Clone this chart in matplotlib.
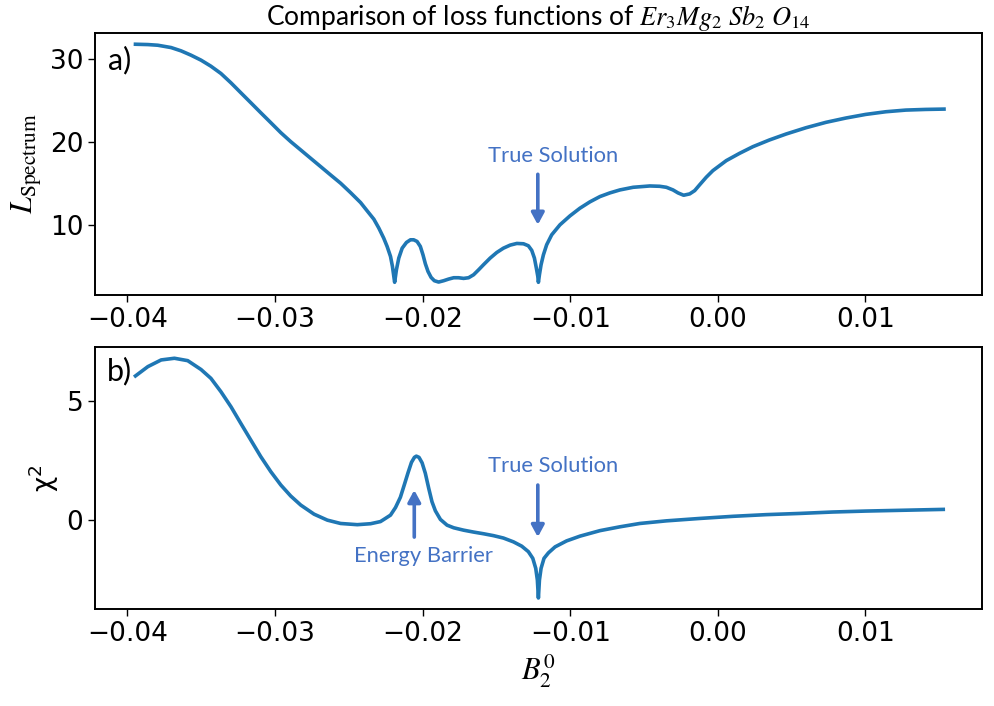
import numpy as np
import matplotlib
matplotlib.use("Agg")
import matplotlib.pyplot as plt

plt.rcParams['mathtext.fontset'] = 'stix'

# B_2^0 values and spectrum loss
b20_spec = [-0.03946, -0.03862, -0.03795, -0.03705, -0.03637, -0.03570, -0.03502,
            -0.03435, -0.03367, -0.03299, -0.03232, -0.03164, -0.03097, -0.03029,
            -0.02961, -0.02894, -0.02826, -0.02759, -0.02691, -0.02624, -0.02556,
            -0.02489, -0.02421, -0.02376, -0.02331, -0.02297, -0.02264, -0.02241,
            -0.02218, -0.02205, -0.02190,
            -0.02178, -0.02162, -0.02139, -0.02110, -0.02083, -0.02061, -0.02038,
            -0.02016, -0.01998, -0.01982, -0.01964, -0.01943, -0.01921, -0.01892,
            -0.01858, -0.01824, -0.01790, -0.01757, -0.01723, -0.01689, -0.01655,
            -0.01621, -0.01588, -0.01543, -0.01498, -0.01453, -0.01407, -0.01362,
            -0.01317, -0.01284, -0.01261, -0.01243, -0.01230, -0.01220, -0.01216,
            -0.01209, -0.01198, -0.01182, -0.01160, -0.01126,
            -0.01070, -0.01002, -0.00935, -0.00867, -0.00799, -0.00732, -0.00664,
            -0.00574, -0.00461, -0.00394, -0.00349, -0.00304, -0.00270, -0.00232,
            -0.00191, -0.00157, -0.00124, -0.00079, -0.00034, 0.00057, 0.00147,
            0.00237, 0.00349, 0.00462, 0.00597, 0.00732, 0.00867, 0.01002,
            0.01138, 0.01273, 0.01408, 0.01532]
loss_spec = [31.84, 31.80, 31.72, 31.44, 31.04, 30.52, 29.92,
             29.19, 28.31, 27.18, 25.98, 24.77, 23.57, 22.37,
             21.16, 20.08, 19.07, 18.07, 17.06, 16.06, 15.06,
             13.93, 12.73, 11.72, 10.72, 9.64, 8.43, 7.43,
             6.22, 5.02, 3.10,
             4.61, 6.02, 7.22, 7.91, 8.23, 8.23, 8.03,
             7.43, 6.42, 5.34, 4.41, 3.69, 3.29, 3.13,
             3.29, 3.49, 3.65, 3.65, 3.57, 3.65, 4.01,
             4.61, 5.22, 6.02, 6.70, 7.22, 7.59, 7.79,
             7.75, 7.51, 6.95, 6.02, 4.82, 3.81, 3.10,
             4.01, 5.22, 6.42, 7.63, 8.83,
             10.04, 11.12, 12.04, 12.81, 13.45, 13.89, 14.25,
             14.57, 14.73, 14.69, 14.57, 14.25, 13.89, 13.61,
             13.77, 14.17, 14.86, 15.78, 16.58, 17.79, 18.67,
             19.47, 20.28, 21.00, 21.76, 22.41, 22.93, 23.37,
             23.69, 23.89, 23.97, 24.01]

# B_2^0 values and chi^2
b20_chi = [-0.03946, -0.03862, -0.03772, -0.03682, -0.03592, -0.03502, -0.03435,
           -0.03367, -0.03299, -0.03232, -0.03164, -0.03097, -0.03029, -0.02961,
           -0.02894, -0.02826, -0.02736, -0.02646, -0.02556, -0.02443, -0.02353,
           -0.02286, -0.02263, -0.02218, -0.02184, -0.02151, -0.02124, -0.02099,
           -0.02076, -0.02056, -0.02043, -0.02025, -0.02004, -0.01982, -0.01959,
           -0.01937, -0.01914, -0.01880, -0.01835, -0.01790, -0.01723, -0.01655,
           -0.01588, -0.01520, -0.01453, -0.01385, -0.01329, -0.01284, -0.01254,
           -0.01234, -0.01223, -0.01216, -0.01209, -0.01198, -0.01178, -0.01148,
           -0.01103, -0.01025, -0.00934, -0.00799, -0.00664, -0.00529, -0.00349,
           -0.00124, 0.00102, 0.00327, 0.00552, 0.00777, 0.01002, 0.01228, 0.01527]
chi2 = [6.05, 6.44, 6.72, 6.79, 6.69, 6.32, 5.95,
        5.39, 4.76, 4.06, 3.36, 2.67, 2.04, 1.48,
        1.02, 0.64, 0.26, 0.01, -0.13, -0.18, -0.14,
        -0.05, 0.04, 0.22, 0.54, 0.97, 1.50, 2.00,
        2.43, 2.64, 2.69, 2.64, 2.41, 1.97, 1.34,
        0.78, 0.40, 0.04, -0.20, -0.31, -0.41, -0.49,
        -0.56, -0.64, -0.74, -0.90, -1.08, -1.31, -1.59,
        -2.01, -2.50, -3.25, -2.50, -2.01, -1.59, -1.36,
        -1.11, -0.86, -0.66, -0.43, -0.27, -0.13, -0.02,
        0.08, 0.17, 0.24, 0.29, 0.35, 0.39, 0.42, 0.46]

x_ticks = [-0.04, -0.03, -0.02, -0.01, 0.00, 0.01]
line_color = '#1f77b4'
note_color = '#4472C4'
note_font = 'Lato'

fig = plt.figure(figsize=(9.94, 7.06), dpi=100)
ax1 = fig.add_axes([0.0956, 0.5822, 0.8924, 0.3711])
ax2 = fig.add_axes([0.0956, 0.1378, 0.8924, 0.3703])

ax1.plot(b20_spec, loss_spec, color=line_color, linewidth=2.6)
ax2.plot(b20_chi, chi2, color=line_color, linewidth=2.6)

for ax in (ax1, ax2):
    ax.set_xlim(-0.0422, 0.0179)
    ax.set_xticks(x_ticks)
    ax.tick_params(labelsize=19, length=5, width=1.0)
    for s in ax.spines.values():
        s.set_linewidth(1.4)

ax1.set_ylim(1.57, 33.2)
ax1.set_yticks([10, 20, 30])
ax2.set_ylim(-3.70, 7.25)
ax2.set_yticks([0, 5])

ax1.set_title(r"Comparison of loss functions of $Er_3Mg_2\ Sb_2\ O_{14}$",
              fontsize=19, family=note_font)
ax1.set_ylabel(r"$L_{\rm Spectrum}$", fontsize=22)
ax2.set_ylabel("χ$^2$", fontsize=19, math_fontfamily='dejavusans')
ax2.set_xlabel(r"$B_2^0$", fontsize=22)

ax1.text(0.0147, 0.860, "a)", transform=ax1.transAxes, fontsize=22,
         family=note_font, va='baseline')
ax2.text(0.0135, 0.875, "b)", transform=ax2.transAxes, fontsize=22,
         family=note_font, va='baseline')

arrow = dict(arrowstyle='-|>,head_width=0.38,head_length=0.7',
             color=note_color, lw=2.6, shrinkA=0, shrinkB=0)

ax1.annotate("", xy=(-0.0122, 10.04), xytext=(-0.0122, 16.14), arrowprops=arrow)
ax1.text(-0.01117, 17.63, "True Solution", color=note_color, fontsize=15.8,
         family=note_font, ha='center', va='baseline')

ax2.annotate("", xy=(-0.0122, -0.70), xytext=(-0.0122, 1.48), arrowprops=arrow)
ax2.text(-0.01117, 2.02, "True Solution", color=note_color, fontsize=15.8,
         family=note_font, ha='center', va='baseline')

ax2.annotate("", xy=(-0.02057, 1.27), xytext=(-0.02057, -0.70), arrowprops=arrow)
ax2.text(-0.01995, -1.75, "Energy Barrier", color=note_color, fontsize=15.8,
         family=note_font, ha='center', va='baseline')

fig.savefig("out.png", dpi=100)
